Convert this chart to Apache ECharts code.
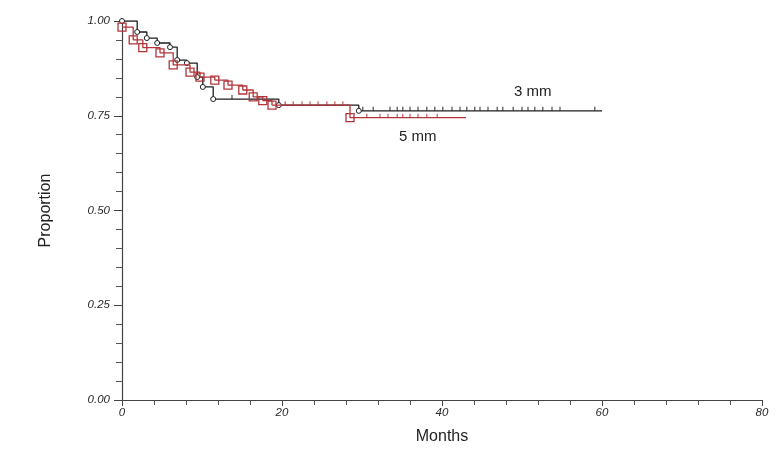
<!DOCTYPE html>
<html><head><meta charset="utf-8">
<script src="https://cdn.jsdelivr.net/npm/echarts@6/dist/echarts.min.js"></script>
<style>html,body{margin:0;padding:0;background:#fff}#c{width:776px;height:461px}</style>
</head><body><div id="c"></div>
<script>
// Kaplan-Meier step data (months, proportion)
var months3 = [0, 1.9, 3.1, 4.4, 6.0, 6.9, 8.1, 9.4, 10.1, 11.4, 19.6, 29.6, 60];
var surv3   = [1.0, 0.971, 0.955, 0.942, 0.931, 0.897, 0.889, 0.852, 0.826, 0.794, 0.778, 0.763, 0.763];
var months5 = [0, 1.4, 2.6, 4.75, 6.4, 8.5, 9.75, 11.6, 13.25, 15.1, 16.4, 17.6, 18.75, 28.5, 43];
var surv5   = [0.984, 0.95, 0.93, 0.916, 0.884, 0.865, 0.852, 0.844, 0.831, 0.818, 0.80, 0.79, 0.778, 0.745, 0.745];
// censoring times
var censor3 = [13.75, 30.1, 31.4, 33.5, 34.4, 35.1, 36, 37, 38.1, 39.1, 40.1, 41.25, 42.25, 43.1, 44.1,
               44.75, 45.75, 46.9, 47.6, 48.9, 50, 50.75, 51.6, 52.6, 53.75, 54.75, 59.1];
var censor5 = [20.4, 21.4, 22.5, 23.5, 24.5, 25.6, 26.6, 27.6, 30.6, 32.25, 33.25, 34.4, 35.1, 36, 37, 38.1, 39.4];
var xTicks = [0, 20, 40, 60, 80];
var yTicks = [0, 0.25, 0.5, 0.75, 1.0];
var seriesNames = ['3 mm', '5 mm'];

function pairs(xs, ys) {
  return xs.map(function (x, i) {
    var item = { value: [x, ys[i]] };
    if (i === xs.length - 1) item.symbol = 'none';
    return item;
  });
}
function survAt(xs, ys, t) { var v = ys[0]; for (var i = 0; i < xs.length; i++) { if (xs[i] <= t) v = ys[i]; } return v; }
function censorPts(c, xs, ys) { return c.map(function (t) { return [t, survAt(xs, ys, t)]; }); }

var BLACK = '#1e1e1e', RED = '#b2353a';
var FONT = 'Liberation Sans, Arial';
var chart = echarts.init(document.getElementById('c'), null, { renderer: 'canvas' });
var lblStyle = { color: '#2a2a2a', fontSize: 11.5, fontStyle: 'italic', fontFamily: FONT };
chart.setOption({
  animation: false,
  grid: { left: 122, right: 14, top: 21, bottom: 61 },
  xAxis: {
    type: 'value', min: xTicks[0], max: xTicks[xTicks.length - 1], interval: 20,
    name: 'Months', nameLocation: 'middle', nameGap: 29,
    nameTextStyle: { color: '#222', fontSize: 16, fontFamily: FONT },
    axisLine: { show: true, lineStyle: { color: '#444', width: 1.2 } },
    axisTick: { show: true, length: 6, lineStyle: { color: '#444' } },
    minorTick: { show: true, splitNumber: 5, length: 5, lineStyle: { color: '#555' } },
    splitLine: { show: false },
    axisLabel: Object.assign({ margin: 7 }, lblStyle)
  },
  yAxis: {
    type: 'value', min: yTicks[0], max: yTicks[yTicks.length - 1], interval: 0.25,
    name: 'Proportion', nameLocation: 'middle', nameGap: 68, nameRotate: 90,
    nameTextStyle: { color: '#222', fontSize: 16, fontFamily: FONT },
    axisLine: { show: true, lineStyle: { color: '#444', width: 1.2 } },
    axisTick: { show: true, length: 8, lineStyle: { color: '#444' } },
    minorTick: { show: true, splitNumber: 5, length: 6, lineStyle: { color: '#555' } },
    splitLine: { show: false },
    axisLabel: Object.assign({ margin: 12, formatter: function (v) { return v.toFixed(2); } }, lblStyle)
  },
  series: [
    { name: seriesNames[0], type: 'line', step: 'end', data: pairs(months3, surv3),
      lineStyle: { color: BLACK, width: 1.3 }, itemStyle: { color: '#fff', borderColor: BLACK, borderWidth: 1 },
      symbol: 'circle', symbolSize: 5, showSymbol: true, z: 3 },
    { name: seriesNames[1], type: 'line', step: 'end', data: pairs(months5, surv5),
      lineStyle: { color: RED, width: 1.3 }, itemStyle: { color: 'rgba(255,255,255,0)', borderColor: RED, borderWidth: 1.3 },
      symbol: 'rect', symbolSize: 8, showSymbol: true, z: 4 },
    { name: 'c3', type: 'scatter', data: censorPts(censor3, months3, surv3),
      symbol: 'rect', symbolSize: [1.2, 4], symbolOffset: [0, -2], itemStyle: { color: BLACK }, z: 5 },
    { name: 'c5', type: 'scatter', data: censorPts(censor5, months5, surv5),
      symbol: 'rect', symbolSize: [1.2, 4], symbolOffset: [0, -2], itemStyle: { color: RED }, z: 5 }
  ],
  graphic: [
    { type: 'text', left: 514, top: 84, style: { text: seriesNames[0], fill: '#222', fontSize: 15, fontFamily: FONT } },
    { type: 'text', left: 399, top: 129, style: { text: seriesNames[1], fill: '#222', fontSize: 15, fontFamily: FONT } }
  ]
});
</script></body></html>
